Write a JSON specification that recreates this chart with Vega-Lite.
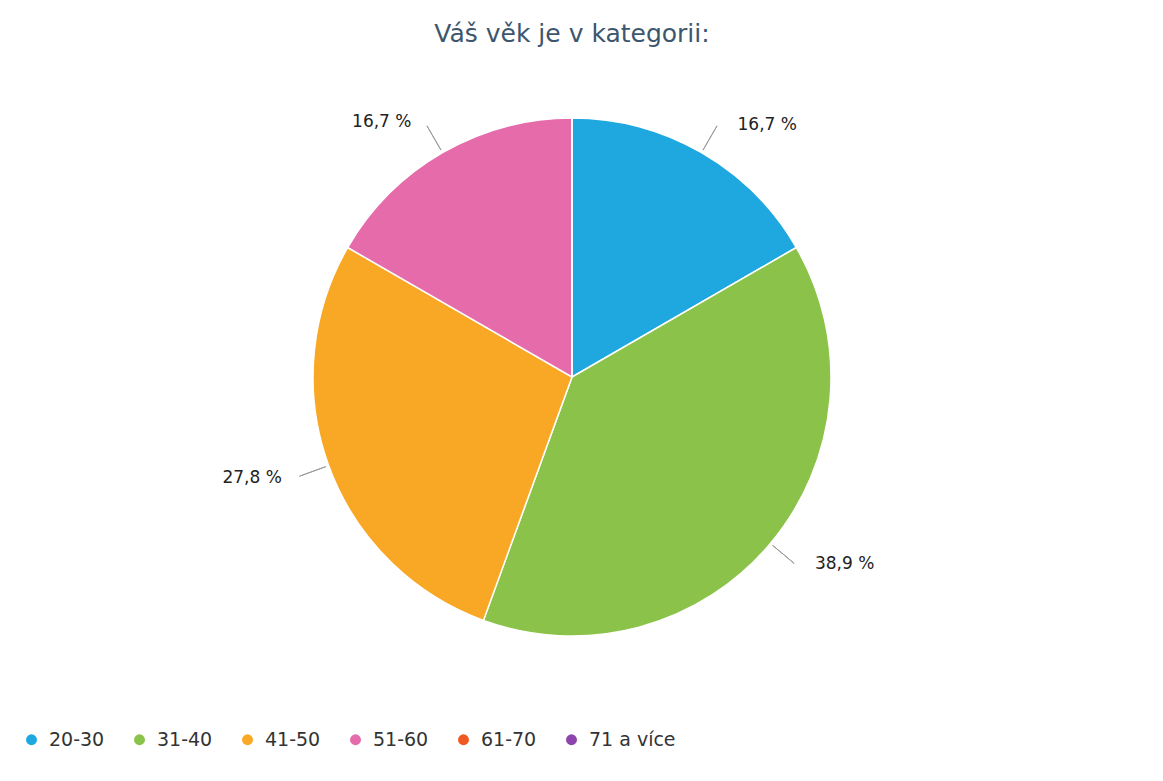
{
  "$schema": "https://vega.github.io/schema/vega-lite/v6.json",
  "width": 1144,
  "height": 754,
  "autosize": "none",
  "padding": 0,
  "background": "white",
  "title": {
    "text": "Váš věk je v kategorii:",
    "font": "DejaVu Sans",
    "fontSize": 25,
    "fontWeight": "normal",
    "color": "#3d566e",
    "anchor": "middle",
    "frame": "group",
    "offset": -47
  },
  "data": {
    "values": [
      {"kategorie": "20-30", "podil": 16.67, "popisek": "16,7 %"},
      {"kategorie": "31-40", "podil": 38.89, "popisek": "38,9 %"},
      {"kategorie": "41-50", "podil": 27.78, "popisek": "27,8 %"},
      {"kategorie": "51-60", "podil": 16.67, "popisek": "16,7 %"},
      {"kategorie": "61-70", "podil": 0, "popisek": ""},
      {"kategorie": "71 a více", "podil": 0, "popisek": ""}
    ]
  },
  "encoding": {
    "theta": {"field": "podil", "type": "quantitative", "stack": true},
    "order": {"field": "kategorie", "sort": "ascending"},
    "color": {
      "field": "kategorie",
      "type": "nominal",
      "sort": null,
      "scale": {
        "domain": ["20-30", "31-40", "41-50", "51-60", "61-70", "71 a více"],
        "range": ["#1fa7e0", "#8bc34a", "#f9a825", "#e56baa", "#f05a22", "#8e44ad"]
      },
      "legend": {
        "title": null,
        "orient": "none",
        "legendX": 22,
        "legendY": 730,
        "direction": "horizontal",
        "symbolType": "circle",
        "symbolSize": 120,
        "symbolStrokeWidth": 0,
        "labelFont": "DejaVu Sans",
        "labelFontSize": 19,
        "labelColor": "#333333",
        "labelOffset": 8,
        "columnPadding": 25
      }
    }
  },
  "layer": [
    {
      "mark": {"type": "arc", "radius": 259, "stroke": "white", "strokeWidth": 1.5}
    },
    {
      "mark": {"type": "arc", "radius": 290, "radius2": 262, "padAngle": 3, "filled": false, "strokeWidth": 1},
      "encoding": {
        "stroke": {"value": "#9a9a9a"},
        "strokeOpacity": {"condition": {"test": "datum.podil > 0", "value": 1}, "value": 0}
      }
    },
    {
      "mark": {"type": "text", "radius": 291, "dx": 20, "align": "left", "baseline": "middle", "font": "DejaVu Sans", "fontSize": 17},
      "encoding": {
        "text": {"condition": {"test": "datum.kategorie == '20-30' || datum.kategorie == '31-40'", "field": "popisek"}, "value": ""},
        "fill": {"value": "#222222"}
      }
    },
    {
      "mark": {"type": "text", "radius": 295, "dx": -13, "align": "right", "baseline": "middle", "font": "DejaVu Sans", "fontSize": 17},
      "encoding": {
        "text": {"condition": {"test": "datum.kategorie == '41-50' || datum.kategorie == '51-60'", "field": "popisek"}, "value": ""},
        "fill": {"value": "#222222"}
      }
    }
  ]
}
